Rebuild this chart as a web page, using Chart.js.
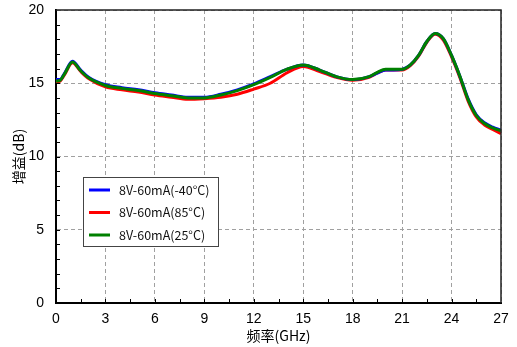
<!DOCTYPE html>
<html>
<head>
<meta charset="utf-8">
<script src="https://cdn.jsdelivr.net/npm/chart.js@4"></script>
<style>
  html, body { margin: 0; padding: 0; background: #fff; }
  #wrap { width: 517px; height: 347px; }
</style>
</head>
<body>
<div id="wrap"><canvas id="myChart"></canvas></div>
<script>
// Fréquence (GHz)
const freq = [0, 0.25, 0.5, 1, 1.5, 2, 3, 4, 5, 6, 7, 8, 9, 10, 11, 12, 13, 14, 15, 16, 17, 18, 19, 19.5, 20, 20.5, 21, 21.5, 22, 22.5, 23, 23.5, 24, 24.5, 25, 25.5, 26, 26.5, 27];
// Gain (dB) pour chaque température
const gainM40 = [15.25, 15.25, 15.65, 16.5, 15.9, 15.4, 14.9, 14.7, 14.55, 14.35, 14.2, 14.05, 14.05, 14.25, 14.55, 14.95, 15.45, 15.95, 16.25, 15.9, 15.45, 15.25, 15.45, 15.7, 15.9, 15.9, 15.95, 16.25, 16.9, 17.85, 18.4, 18.05, 16.9, 15.5, 13.95, 12.85, 12.3, 12.0, 11.8];
const gain85 = [15.1, 15.15, 15.55, 16.4, 15.8, 15.3, 14.75, 14.55, 14.4, 14.2, 14.05, 13.9, 13.95, 14.05, 14.25, 14.6, 15.0, 15.7, 16.15, 15.8, 15.4, 15.2, 15.4, 15.7, 15.9, 15.9, 15.9, 16.2, 16.85, 17.8, 18.35, 17.95, 16.8, 15.4, 13.8, 12.7, 12.15, 11.85, 11.55];
const gain25 = [15.15, 15.2, 15.6, 16.45, 15.85, 15.35, 14.85, 14.65, 14.5, 14.3, 14.15, 14.0, 14.0, 14.2, 14.5, 14.9, 15.4, 15.95, 16.25, 15.9, 15.45, 15.25, 15.45, 15.75, 15.95, 15.95, 15.95, 16.25, 16.9, 17.85, 18.4, 18.05, 16.9, 15.5, 13.9, 12.8, 12.25, 11.95, 11.75];
const seriesLabels = ["8V-60mA(-40°C)", "8V-60mA(85°C)", "8V-60mA(25°C)"];
const seriesColors = ["#0000ff", "#ff0000", "#008000"];

function toPoints(ys) {
    return freq.map((x, i) => ({ x: x, y: ys[i] }));
}

// petits traits vers l'intérieur + cadre + légende
const extras = {
    id: "extras",
    afterDraw(chart) {
        const ctx = chart.ctx;
        const a = chart.chartArea;
        const xs = chart.scales.x, ys = chart.scales.y;
        ctx.save();
        ctx.strokeStyle = "#000";
        ctx.lineWidth = 1;
        ctx.beginPath();
        for (let v = 1.5; v < 27; v += 1.5) {
            const px = Math.round(xs.getPixelForValue(v)) + 0.5;
            ctx.moveTo(px, a.bottom);
            ctx.lineTo(px, a.bottom - 4);
        }
        for (let v = 1; v < 20; v++) {
            const py = Math.round(ys.getPixelForValue(v)) + 0.5;
            ctx.moveTo(a.left, py);
            ctx.lineTo(a.left + 4, py);
        }
        ctx.stroke();
        // cadre haut / droite
        ctx.lineWidth = 1.5;
        ctx.strokeStyle = "#222";
        ctx.beginPath();
        ctx.moveTo(a.left, a.top);
        ctx.lineTo(a.right, a.top);
        ctx.lineTo(a.right, a.bottom);
        ctx.stroke();

        // légende
        const lx = a.left + 27, ly = a.top + 167, lw = 135, lh = 69;
        ctx.fillStyle = "#fff";
        ctx.fillRect(lx, ly, lw, lh);
        ctx.strokeStyle = "#444";
        ctx.lineWidth = 1;
        ctx.strokeRect(lx + 0.5, ly + 0.5, lw, lh);
        ctx.font = "12.5px 'Noto Sans CJK SC'";
        ctx.textBaseline = "middle";
        chart.data.datasets.forEach((ds, i) => {
            const yy = ly + 13 + i * 22.5;
            ctx.strokeStyle = ds.borderColor;
            ctx.lineWidth = 3;
            ctx.beginPath();
            ctx.moveTo(lx + 6, yy);
            ctx.lineTo(lx + 27, yy);
            ctx.stroke();
            ctx.fillStyle = "#111";
            ctx.fillText(ds.label, lx + 36, yy);
        });
        ctx.restore();
    }
};

const config = {
    type: "line",
    data: {
        datasets: [
            { label: seriesLabels[0], data: toPoints(gainM40), borderColor: seriesColors[0], order: 1 },
            { label: seriesLabels[1], data: toPoints(gain85), borderColor: seriesColors[1], order: 2 },
            { label: seriesLabels[2], data: toPoints(gain25), borderColor: seriesColors[2], order: 0 }
        ]
    },
    options: {
        responsive: true,
        maintainAspectRatio: false,
        animation: false,
        layout: { padding: { top: 10, right: 16, left: 0, bottom: 0 } },
        elements: {
            line: { borderWidth: 3, tension: 0.4, cubicInterpolationMode: "monotone" },
            point: { radius: 0 }
        },
        plugins: { legend: { display: false }, tooltip: { enabled: false } },
        scales: {
            x: {
                type: "linear",
                min: 0, max: 27,
                afterFit(s) { s.height = 44; s.paddingLeft = 0; s.paddingRight = 0; },
                ticks: { stepSize: 3, color: "#000", padding: 8, maxRotation: 0, font: { family: "'Liberation Sans'", size: 14 } },
                grid: { color: "#a0a0a0", lineWidth: 1, drawTicks: false },
                border: { display: true, color: "#000", width: 2, dash: [4, 3] },
                title: { display: true, text: "频率(GHz)", color: "#000", padding: { top: 0, bottom: 3 }, font: { family: "'Noto Sans CJK SC'", size: 14 } }
            },
            y: {
                min: 0, max: 20,
                afterFit(s) { s.width = 56; s.paddingTop = 0; s.paddingBottom = 0; },
                ticks: { stepSize: 5, color: "#000", padding: 12, font: { family: "'Liberation Sans'", size: 14 } },
                grid: { color: "#a0a0a0", lineWidth: 1, drawTicks: false },
                border: { display: true, color: "#000", width: 2, dash: [4, 3] },
                title: { display: true, text: "增益(dB)", color: "#000", padding: { top: 10, bottom: 0 }, font: { family: "'Noto Sans CJK SC'", size: 14 } }
            }
        }
    },
    plugins: [extras]
};

const myChart = new Chart(document.getElementById("myChart"), config);
</script>
</body>
</html>
